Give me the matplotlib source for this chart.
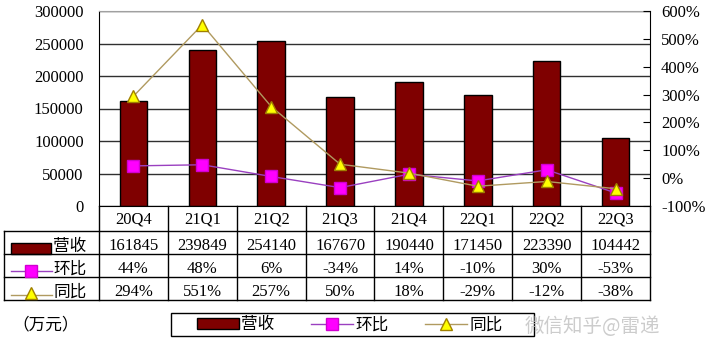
import matplotlib
matplotlib.use('Agg')
import matplotlib.pyplot as plt
from matplotlib.patches import Rectangle

quarters = ['20Q4', '21Q1', '21Q2', '21Q3', '21Q4', '22Q1', '22Q2', '22Q3']
revenue = [161845, 239849, 254140, 167670, 190440, 171450, 223390, 104442]
qoq = [44, 48, 6, -34, 14, -10, 30, -53]
yoy = [294, 551, 257, 50, 18, -29, -12, -38]
row_names = ['营收', '环比', '同比']

W, H = 720, 356
BAR_C = '#7f0000'
QOQ_LINE = '#9a40c0'
QOQ_MARK = '#ff00ff'
YOY_LINE = '#b09a60'
YOY_MARK = '#ffff00'
NUM_FONT = 'Liberation Serif'
CJK_FONT = ['Noto Sans CJK SC', 'DejaVu Sans']
FS = 12

plt.rcParams['axes.unicode_minus'] = False


def fx(px):
    return px / W


def fy(py):
    return 1 - py / H


fig = plt.figure(figsize=(W / 100, H / 100), dpi=100)

# main plot
ax = fig.add_axes([fx(99), fy(206), fx(650) - fx(99), fy(11) - fy(206)])
x = list(range(len(quarters)))
bars = ax.bar(x, revenue, width=0.4, color=BAR_C, edgecolor='black', linewidth=1, zorder=2, label='营收')
ax.set_xlim(-0.5, len(quarters) - 0.5)
ax.set_ylim(0, 300000)
ax.set_yticks(range(0, 300001, 50000))
ax.set_yticklabels([str(v) for v in range(0, 300001, 50000)], fontfamily=NUM_FONT, fontsize=FS)
ax.tick_params(axis='y', length=0, pad=11)
ax.set_xticks([])
ax.yaxis.grid(True, color='#303030', linewidth=1)
ax.set_axisbelow(True)
ax.spines['top'].set_color('#a0a0a0')
ax.spines['right'].set_visible(False)
for s in ('left', 'bottom'):
    ax.spines[s].set_color('black')

ax2 = ax.twinx()
l_qoq, = ax2.plot(x, qoq, color=QOQ_LINE, linewidth=1, marker='s', markersize=9,
                  markerfacecolor=QOQ_MARK, markeredgecolor='#d000d0', zorder=3, label='环比')
l_yoy, = ax2.plot(x, yoy, color=YOY_LINE, linewidth=1, marker='^', markersize=9,
                  markerfacecolor=YOY_MARK, markeredgecolor='#a08000', zorder=4, label='同比')
ax2.set_ylim(-100, 600)
ax2.set_yticks(range(-100, 601, 100))
ax2.set_yticklabels([f'{v}%' for v in range(-100, 601, 100)], fontfamily=NUM_FONT, fontsize=FS)
ax2.tick_params(axis='y', direction='in', length=5, pad=8, color='black')
ax2.spines['right'].set_color('black')
ax2.spines['top'].set_visible(False)
ax2.spines['left'].set_visible(False)
ax2.spines['bottom'].set_visible(False)

# data table under the plot
cat_w = (650 - 99) / len(quarters)
xl = -0.5 - (99 - 4) / cat_w
tab = fig.add_axes([fx(4), fy(300), fx(650) - fx(4), fy(206) - fy(300)])
tab.set_xlim(xl, len(quarters) - 0.5)
tab.set_ylim(94, 0)
tab.axis('off')


def dx(px):
    return xl + (px - 4) / cat_w


lk = dict(color='black', linewidth=1, clip_on=False)
for k in range(len(quarters) + 1):
    tab.plot([k - 0.5, k - 0.5], [0, 94], **lk)
tab.plot([xl, xl], [25, 94], **lk)
for yy in (25, 48, 71, 94):
    tab.plot([xl, len(quarters) - 0.5], [yy, yy], **lk)

for i, q in enumerate(quarters):
    tab.text(i, 13, q, ha='center', va='center', fontfamily=NUM_FONT, fontsize=FS)
    tab.text(i, 40, str(revenue[i]), ha='center', va='center', fontfamily=NUM_FONT, fontsize=FS)
    tab.text(i, 63, f'{qoq[i]}%', ha='center', va='center', fontfamily=NUM_FONT, fontsize=FS)
    tab.text(i, 86, f'{yoy[i]}%', ha='center', va='center', fontfamily=NUM_FONT, fontsize=FS)

# row keys
tab.add_patch(Rectangle((dx(11), 37), 40 / cat_w, 11, facecolor=BAR_C, edgecolor='black', clip_on=False))
tab.plot([dx(11), dx(52)], [65, 65], color=QOQ_LINE, linewidth=1, clip_on=False)
tab.plot([dx(31)], [65], marker='s', markersize=9, markerfacecolor=QOQ_MARK,
         markeredgecolor='#d000d0', clip_on=False)
tab.plot([dx(11), dx(52)], [89, 89], color=YOY_LINE, linewidth=1, clip_on=False)
tab.plot([dx(31)], [87], marker='^', markersize=9, markerfacecolor=YOY_MARK,
         markeredgecolor='#a08000', clip_on=False)
for name, yy in zip(row_names, (40, 63, 86)):
    tab.text(dx(53), yy, name, ha='left', va='center', family=CJK_FONT, fontsize=FS)

# bottom legend
fig.patches.append(Rectangle((fx(171), fy(336)), fx(534) - fx(171), fy(313) - fy(336),
                             transform=fig.transFigure, fill=False, edgecolor='black', linewidth=1))
fig.legend([bars, l_qoq, l_yoy], row_names, ncol=3, frameon=False, loc='center',
           bbox_to_anchor=(fx(350), fy(325)), handlelength=2.5, handleheight=0.6,
           columnspacing=2.2, handletextpad=0.15, numpoints=1,
           prop={'family': CJK_FONT, 'size': FS})

fig.text(fx(12), fy(325), '（万元）', ha='left', va='center', family=CJK_FONT, fontsize=FS)
fig.text(fx(525), fy(326), '微信知乎@雷递', ha='left', va='center', family=CJK_FONT,
         fontsize=14, color='#c0c0c0', alpha=0.8)

fig.savefig('out.png', dpi=100)
